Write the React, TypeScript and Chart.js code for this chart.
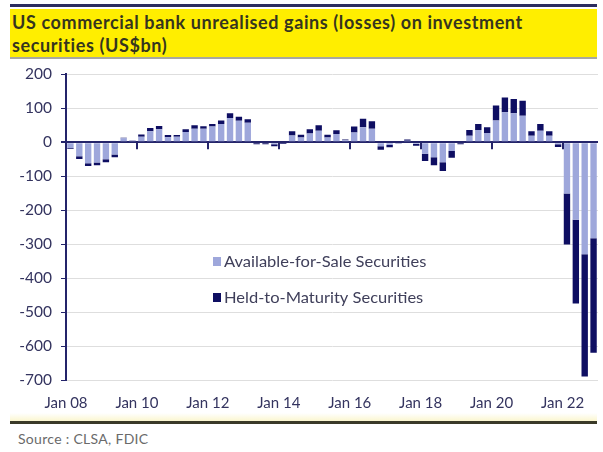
import React, { useEffect, useRef } from "react";
import { Chart, registerables } from "chart.js";

Chart.register(...registerables);

const quarters = [
  "2008Q1", "2008Q2", "2008Q3", "2008Q4", "2009Q1", "2009Q2", "2009Q3", "2009Q4",
  "2010Q1", "2010Q2", "2010Q3", "2010Q4", "2011Q1", "2011Q2", "2011Q3", "2011Q4",
  "2012Q1", "2012Q2", "2012Q3", "2012Q4", "2013Q1", "2013Q2", "2013Q3", "2013Q4",
  "2014Q1", "2014Q2", "2014Q3", "2014Q4", "2015Q1", "2015Q2", "2015Q3", "2015Q4",
  "2016Q1", "2016Q2", "2016Q3", "2016Q4", "2017Q1", "2017Q2", "2017Q3", "2017Q4",
  "2018Q1", "2018Q2", "2018Q3", "2018Q4", "2019Q1", "2019Q2", "2019Q3", "2019Q4",
  "2020Q1", "2020Q2", "2020Q3", "2020Q4", "2021Q1", "2021Q2", "2021Q3", "2021Q4",
  "2022Q1", "2022Q2", "2022Q3", "2022Q4",
];

const afsValues = [
  -17, -41, -62, -60, -50, -36, 12, 4,
  16, 32, 38, 15, 16, 30, 40, 40,
  46, 54, 71, 63, 57, -3, -3, -6,
  -3, 20, 14, 26, 34, 14, 24, 6,
  29, 44, 40, -12, -8, -2, 4, -5,
  -34, -44, -59, -26, -3, 19, 36, 27,
  64, 88, 85, 78, 19, 34, 19, -6,
  -151, -228, -330, -283,
];

const htmValues = [
  -2, -8, -8, -8, -9, -8, 1, 1,
  7, 10, 10, 6, 5, 8, 10, 7,
  8, 10, 14, 12, 11, -3, -3, -6,
  -2, 12, 8, 12, 16, 8, 11, 2,
  17, 25, 22, -10, -7, -1, 4, -5,
  -21, -24, -26, -20, -3, 17, 18, 17,
  44, 44, 42, 44, 13, 20, 13, -8,
  -150, -247, -360, -337,
];

const xTickLabels = ["Jan 08", "Jan 10", "Jan 12", "Jan 14", "Jan 16", "Jan 18", "Jan 20", "Jan 22"];
const seriesNames = ["Available-for-Sale Securities", "Held-to-Maturity Securities"];

const LIGHT = "#9ea7db";
const NAVY = "#0e0e62";
const AXIS = "#24246a";
const FONT = "Lato, 'Open Sans', sans-serif";

const zeroTicksPlugin = {
  id: "zeroTicks",
  afterDatasetsDraw(chart: any) {
    const { ctx, scales } = chart;
    const x = scales.x;
    const y0 = scales.y.getPixelForValue(0);
    ctx.save();
    ctx.strokeStyle = AXIS;
    ctx.lineWidth = 2;
    xTickLabels.forEach((_, k) => {
      const px = Math.round(x.getPixelForValue(k * 8));
      ctx.beginPath();
      ctx.moveTo(px, y0);
      ctx.lineTo(px, y0 + 7);
      ctx.stroke();
    });
    ctx.restore();
  },
};

const legendPlugin = {
  id: "insideLegend",
  afterDraw(chart: any) {
    const { ctx, chartArea, scales } = chart;
    const colors = [LIGHT, NAVY];
    const rowsY = [scales.y.getPixelForValue(-350), scales.y.getPixelForValue(-457)];
    const x0 = chartArea.left + 147;
    ctx.save();
    ctx.textBaseline = "middle";
    seriesNames.forEach((name, i) => {
      const yy = Math.round(rowsY[i]);
      ctx.fillStyle = colors[i];
      ctx.fillRect(x0, yy - 4, 8, 9);
      ctx.save();
      ctx.translate(x0 + 11, yy + 1);
      ctx.scale(1.1, 1);
      ctx.font = `15px ${FONT}`;
      ctx.fillStyle = "#3f3f5a";
      ctx.fillText(name, 0, 0);
      ctx.restore();
    });
    ctx.restore();
  },
};

function App() {
  const canvasRef = useRef<HTMLCanvasElement | null>(null);

  useEffect(() => {
    document.body.style.margin = "0";
    const canvas = canvasRef.current;
    if (!canvas) return;
    const chart = new Chart(canvas, {
      type: "bar",
      data: {
        labels: quarters,
        datasets: [
          {
            label: seriesNames[0],
            data: afsValues.map((v, i) => ({ x: i + 0.5, y: v })),
            backgroundColor: LIGHT,
            categoryPercentage: 1,
            barPercentage: 0.72,
          },
          {
            label: seriesNames[1],
            data: htmValues.map((v, i) => ({ x: i + 0.5, y: v })),
            backgroundColor: NAVY,
            categoryPercentage: 1,
            barPercentage: 0.72,
          },
        ],
      },
      plugins: [zeroTicksPlugin, legendPlugin],
      options: {
        animation: false,
        responsive: false,
        maintainAspectRatio: false,
        layout: { padding: { top: 0, right: 5, left: 0, bottom: 0 } },
        plugins: {
          legend: { display: false },
          tooltip: { enabled: false },
          title: { display: false },
        },
        scales: {
          x: {
            type: "linear",
            stacked: true,
            offset: false,
            min: 0,
            max: quarters.length,
            grid: { display: false, drawTicks: false },
            border: { display: false },
            afterFit: (s: any) => {
              s.height = 41;
            },
            afterBuildTicks: (s: any) => {
              s.ticks = xTickLabels.map((_, k) => ({ value: k * 8 }));
            },
            ticks: {
              autoSkip: false,
              maxRotation: 0,
              padding: 14,
              color: "#34345f",
              font: { family: FONT, size: 15 },
              callback: (v: any) => xTickLabels[Math.round(Number(v) / 8)] ?? "",
            },
          },
          y: {
            stacked: true,
            min: -700,
            max: 200,
            afterFit: (s: any) => {
              s.width = 66;
            },
            ticks: {
              stepSize: 100,
              padding: 9,
              color: "#34345f",
              font: { family: FONT, size: 15.5 },
            },
            grid: {
              color: (c: any) => (c.tick && c.tick.value === 0 ? AXIS : "#dedede"),
              lineWidth: (c: any) => (c.tick && c.tick.value === 0 ? 2 : 1),
              tickColor: AXIS,
              tickLength: 5,
              drawTicks: true,
            },
            border: { display: true, color: AXIS, width: 2 },
          },
        },
      },
    });
    return () => chart.destroy();
  }, []);

  return (
    <div
      style={{
        position: "relative",
        width: 603,
        height: 452,
        background: "#ffffff",
        overflow: "hidden",
        fontFamily: FONT,
      }}
    >
      <div style={{ position: "absolute", left: 10, top: 4, width: 587, height: 3, background: "#2c2c5e" }} />
      <div
        style={{
          position: "absolute",
          left: 10,
          top: 9,
          width: 587,
          height: 48,
          background: "#ffee00",
          borderBottom: "2px solid #a8a8a0",
        }}
      />
      <div
        style={{
          position: "absolute",
          left: 12,
          top: 11,
          width: 590,
          color: "#35351f",
          fontWeight: 700,
          fontSize: 18,
          letterSpacing: "0.6px",
          lineHeight: "23px",
          whiteSpace: "nowrap",
        }}
      >
        US commercial bank unrealised gains (losses) on investment
        <br />
        securities (US$bn)
      </div>
      <canvas
        ref={canvasRef}
        width={603}
        height={365}
        style={{ position: "absolute", left: 0, top: 56, width: 603, height: 365 }}
      />
      <div
        style={{
          position: "absolute",
          left: 10,
          top: 413,
          width: 587,
          height: 8,
          background: "linear-gradient(#ffffff, #fbf6cf)",
        }}
      />
      <div style={{ position: "absolute", left: 10, top: 421, width: 587, height: 3, background: "#3a3a28" }} />
      <div
        style={{
          position: "absolute",
          left: 18,
          top: 430,
          color: "#6a6a6a",
          fontSize: 14,
          letterSpacing: "0.3px",
        }}
      >
        Source : CLSA, FDIC
      </div>
    </div>
  );
}

export default App;
